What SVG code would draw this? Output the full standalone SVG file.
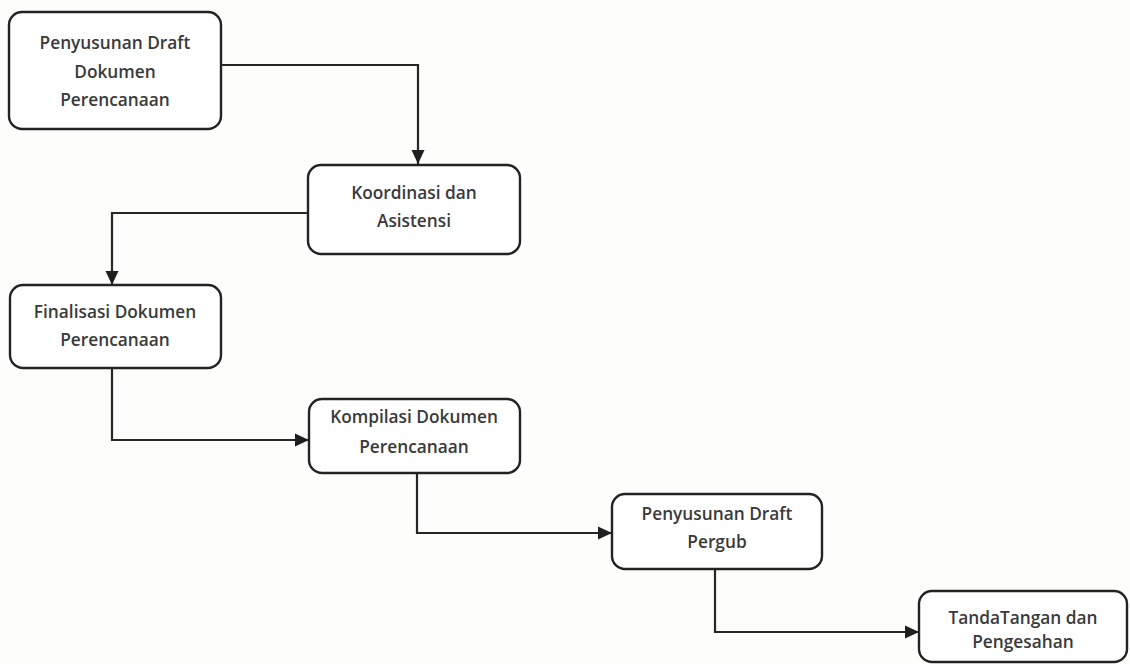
<svg xmlns="http://www.w3.org/2000/svg" width="1130" height="664" viewBox="0 0 1130 664">
  <style>
    .box { fill: #ffffff; stroke: #232323; stroke-width: 2.4; }
    .lbl { font-family: "Open Sans", "Liberation Sans", sans-serif; font-size: 17.3px; font-weight: 600; fill: #3a3a3a; text-anchor: middle; }
    .wire { fill: none; stroke: #262626; stroke-width: 2.2; }
  </style>
  <defs>
    <marker id="arrow" markerUnits="userSpaceOnUse" markerWidth="16" markerHeight="16" viewBox="0 0 16 16" refX="15" refY="8" orient="auto">
      <path d="M1,1.5 L15,8 L1,14.5 Z" fill="#1f1f1f"/>
    </marker>
  </defs>
  <rect width="1130" height="664" fill="#fdfdfc"/>

  <!-- flow connectors -->
  <g id="connectors">
    <path class="wire" d="M221,65 H418 V164" marker-end="url(#arrow)"/>
    <path class="wire" d="M308,213 H112 V285" marker-end="url(#arrow)"/>
    <path class="wire" d="M112,368 V440 H309" marker-end="url(#arrow)"/>
    <path class="wire" d="M417,473 V533 H612" marker-end="url(#arrow)"/>
    <path class="wire" d="M715,569 V632 H919" marker-end="url(#arrow)"/>
  </g>

  <g id="draft-dokumen">
    <rect class="box" x="9" y="12" width="212" height="117" rx="13"/>
    <text class="lbl" x="115" y="49">Penyusunan Draft</text>
    <text class="lbl" x="115" y="78">Dokumen</text>
    <text class="lbl" x="115" y="106">Perencanaan</text>
  </g>

  <g id="koordinasi">
    <rect class="box" x="308" y="165" width="212" height="89" rx="13"/>
    <text class="lbl" x="414" y="199">Koordinasi dan</text>
    <text class="lbl" x="414" y="227">Asistensi</text>
  </g>

  <g id="finalisasi">
    <rect class="box" x="10" y="285" width="211" height="83" rx="13"/>
    <text class="lbl" x="115" y="318">Finalisasi Dokumen</text>
    <text class="lbl" x="115" y="346">Perencanaan</text>
  </g>

  <g id="kompilasi">
    <rect class="box" x="309" y="399" width="211" height="74" rx="13"/>
    <text class="lbl" x="414" y="423">Kompilasi Dokumen</text>
    <text class="lbl" x="414" y="453">Perencanaan</text>
  </g>

  <g id="draft-pergub">
    <rect class="box" x="612" y="494" width="210" height="75" rx="13"/>
    <text class="lbl" x="717" y="520">Penyusunan Draft</text>
    <text class="lbl" x="717" y="548">Pergub</text>
  </g>

  <g id="pengesahan">
    <rect class="box" x="919" y="591" width="208" height="71" rx="13"/>
    <text class="lbl" x="1023" y="624">TandaTangan dan</text>
    <text class="lbl" x="1023" y="648">Pengesahan</text>
  </g>
</svg>
